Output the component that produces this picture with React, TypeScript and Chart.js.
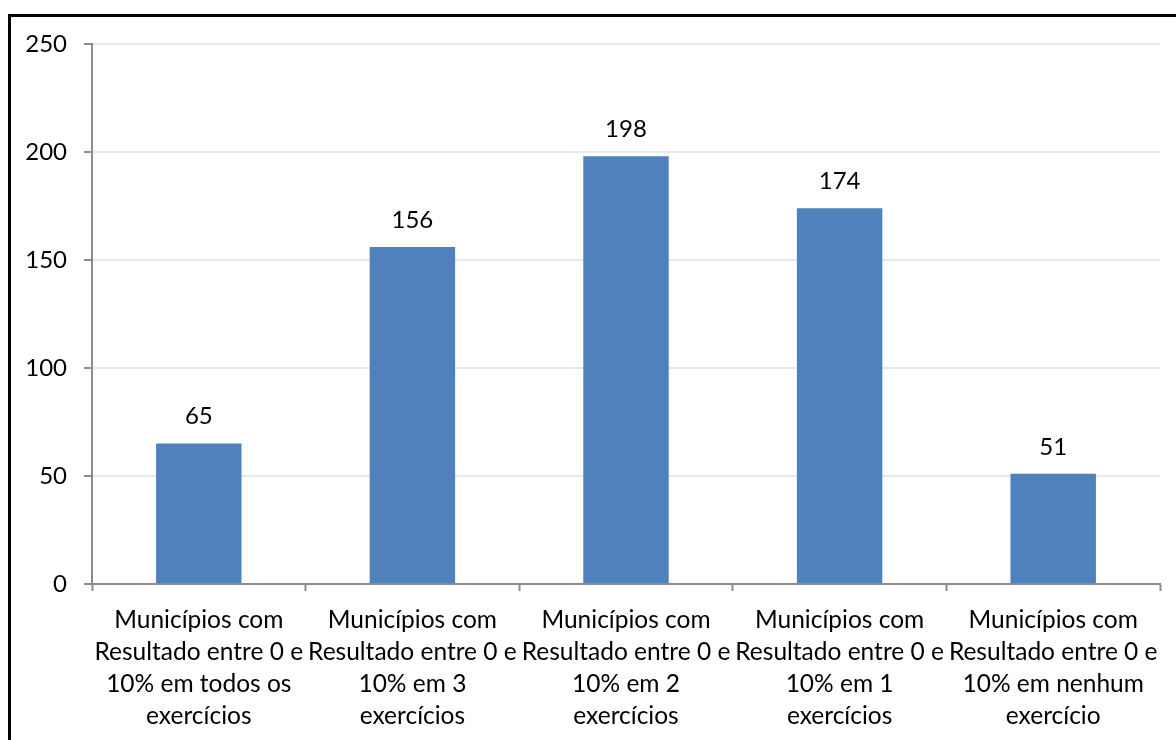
import React, { useEffect, useRef } from "react";
import { Chart, registerables } from "chart.js";

Chart.register(...registerables);

const categories: string[][] = [
  ["Municípios com", "Resultado entre 0 e", "10% em todos os", "exercícios"],
  ["Municípios com", "Resultado entre 0 e", "10% em 3", "exercícios"],
  ["Municípios com", "Resultado entre 0 e", "10% em 2", "exercícios"],
  ["Municípios com", "Resultado entre 0 e", "10% em 1", "exercícios"],
  ["Municípios com", "Resultado entre 0 e", "10% em nenhum", "exercício"],
];
const values: number[] = [65, 156, 198, 174, 51];
const yTicks: number[] = [0, 50, 100, 150, 200, 250];

const FONT = "Lato, Carlito, 'Open Sans', sans-serif";

const valueLabels = {
  id: "valueLabels",
  afterDatasetsDraw(chart: any) {
    const ctx = chart.ctx;
    const meta = chart.getDatasetMeta(0);
    ctx.save();
    ctx.font = `24px ${FONT}`;
    ctx.fillStyle = "#000";
    ctx.textAlign = "center";
    ctx.textBaseline = "middle";
    meta.data.forEach((bar: any, i: number) => {
      ctx.fillText(String(values[i]), bar.x, bar.y - 27);
    });
    ctx.restore();
  },
};

export default function App() {
  const ref = useRef<HTMLCanvasElement>(null);
  useEffect(() => {
    if (!ref.current) return;
    const chart = new Chart(ref.current, {
      type: "bar",
      data: {
        labels: categories,
        datasets: [
          {
            data: values,
            backgroundColor: "#4F81BD",
            barPercentage: 0.4,
            categoryPercentage: 1,
          },
        ],
      },
      options: {
        animation: false,
        responsive: false,
        maintainAspectRatio: false,
        layout: { padding: { top: 44, right: 16, left: 0, bottom: 0 } },
        plugins: { legend: { display: false }, tooltip: { enabled: false } },
        scales: {
          x: {
            afterFit: (s: any) => {
              s.height = 156;
            },
            grid: {
              offset: true,
              drawOnChartArea: false,
              drawTicks: true,
              tickLength: 7,
              tickColor: "#8c8c8c",
              tickWidth: 2,
            },
            border: { color: "#8c8c8c", width: 2 },
            ticks: {
              autoSkip: false,
              maxRotation: 0,
              minRotation: 0,
              padding: 13,
              color: "#000",
              font: { family: FONT, size: 24.5, lineHeight: 1.31 },
            },
          },
          y: {
            min: 0,
            max: 250,
            afterFit: (s: any) => {
              s.width = 92;
            },
            afterBuildTicks: (s: any) => {
              s.ticks = yTicks.map((v) => ({ value: v }));
            },
            grid: {
              color: "#e3e8f1",
              lineWidth: 2,
              tickLength: 8,
              tickColor: "#8c8c8c",
              tickWidth: 2,
            },
            border: { color: "#8c8c8c", width: 2 },
            ticks: {
              padding: 17,
              color: "#000",
              font: { family: FONT, size: 24 },
            },
          },
        },
      },
      plugins: [valueLabels],
    });
    return () => chart.destroy();
  }, []);

  return (
    <div style={{ position: "fixed", left: 0, top: 0, width: 1176, height: 740, overflow: "hidden", background: "#fff" }}>
      <div
        style={{
          position: "absolute",
          left: 8,
          top: 14,
          width: 1300,
          height: 900,
          borderLeft: "3px solid #000",
          borderTop: "3px solid #000",
        }}
      />
      <canvas ref={ref} width={1176} height={740} style={{ position: "absolute", left: 0, top: 0 }} />
    </div>
  );
}
